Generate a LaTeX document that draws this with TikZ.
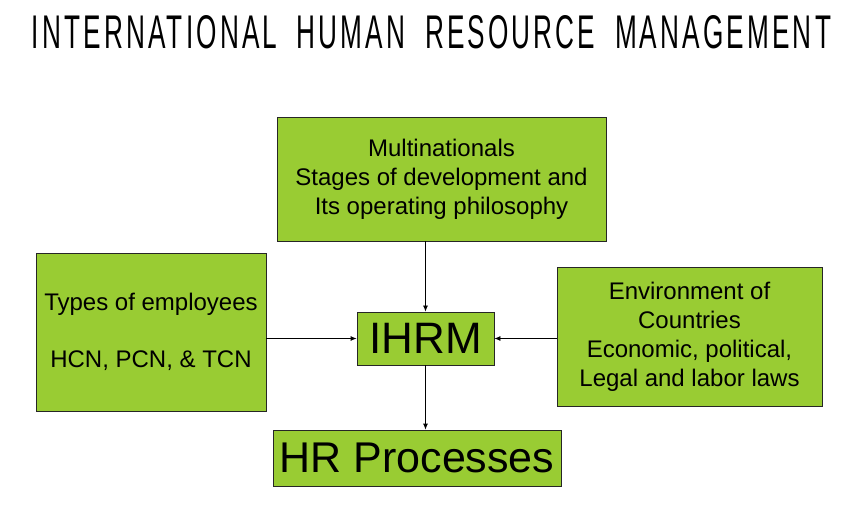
\documentclass[tikz,border=0pt]{standalone}
\usepackage{fontspec}
\setmainfont{Liberation Sans}
\usetikzlibrary{calc,positioning,arrows.meta}
\definecolor{ihrmgreen}{RGB}{153,204,51}
\tikzset{
  greenbox/.style={draw=black!85, line width=0.8pt, fill=ihrmgreen, align=center, inner sep=0pt},
  smalltext/.style={font=\fontsize{24}{29}\selectfont},
  flow/.style={-{Latex[length=6pt,width=5pt]}, line width=0.8pt}
}
\newcommand{\wgap}{\hspace{0.35em}}
\begin{document}
\begin{tikzpicture}[x=1pt, y=-1pt]
                \useasboundingbox (0,0) rectangle (863,505);
                % title
                \node[inner sep=0pt] (title) at (431.5,32.5) {\resizebox{799pt}{33pt}{\addfontfeature{LetterSpace=12}INTERNATIONAL\wgap{} HUMAN\wgap{} RESOURCE\wgap{} MANAGEMENT}};
                % boxes
                \node[greenbox, smalltext, minimum width=329pt, minimum height=124pt] (multi) at (441.5,179) {Multinationals\\Stages of development and\\Its operating philosophy};
                \node[greenbox, smalltext, minimum width=230pt, minimum height=158pt] (types) at (151,332) {Types of employees\\[28.5pt]HCN, PCN, \& TCN};
                \node[greenbox, smalltext, minimum width=265pt, minimum height=139pt] (env) at (689.5,336.5) {Environment of\\Countries\\Economic, political,\\Legal and labor laws};
                \node[greenbox, font=\fontsize{44}{50}\selectfont, minimum width=137pt, minimum height=53pt] (ihrm) at (425.5,338.5) {IHRM};
                \node[greenbox, font=\fontsize{43}{49}\selectfont, minimum width=288pt, minimum height=56pt] (hrp) at (417,458) {HR Processes};
                % arrows
                \draw[flow] (multi.south -| ihrm) -- (ihrm.north);
                \draw[flow] (types.east |- ihrm) -- (ihrm.west);
                \draw[flow] (env.west |- ihrm) -- (ihrm.east);
                \draw[flow] (ihrm.south) -- (hrp.north -| ihrm);
            \end{tikzpicture}
\end{document}
